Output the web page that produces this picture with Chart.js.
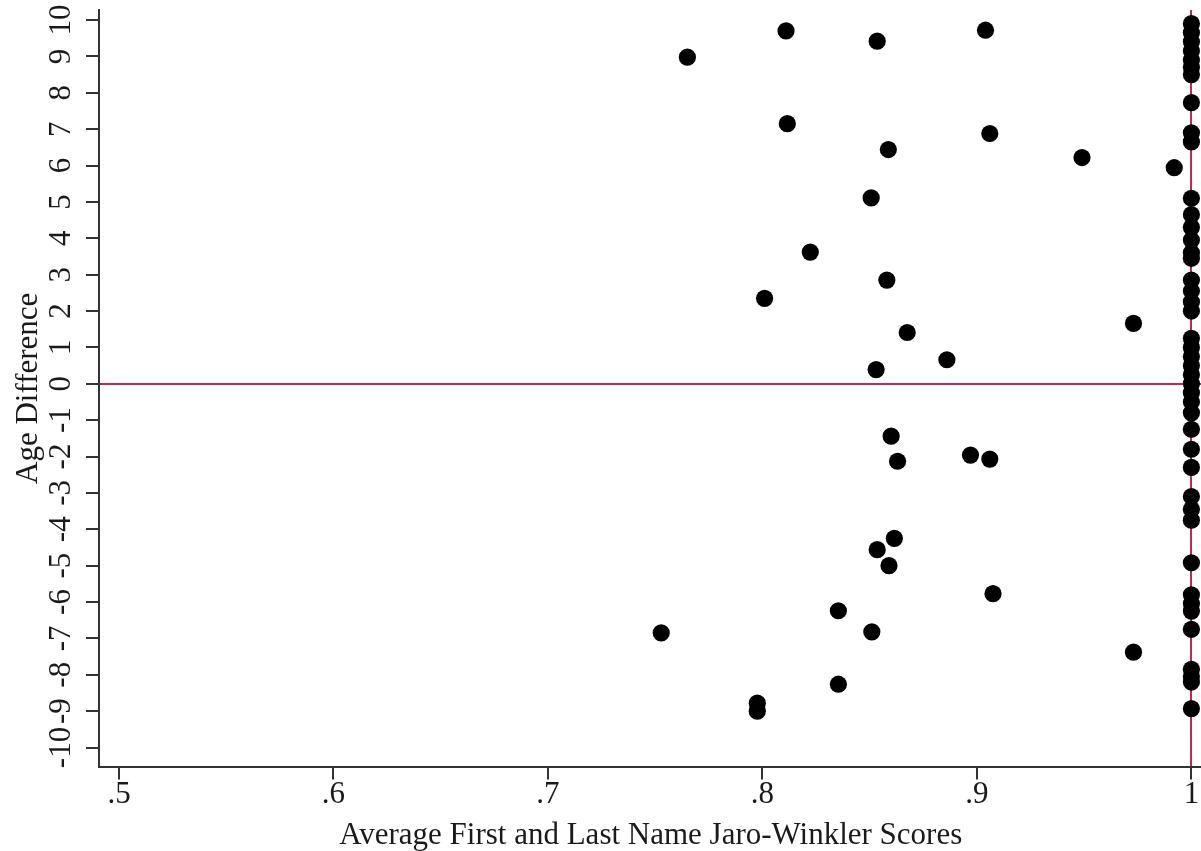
<!DOCTYPE html>
<html>
<head>
<meta charset="utf-8">
<script src="https://cdn.jsdelivr.net/npm/chart.js@4/dist/chart.umd.min.js"></script>
<style>
  html, body { margin: 0; padding: 0; background: #fff; overflow: hidden; width: 1201px; height: 851px; }
  #plot { position: absolute; left: 0; top: -12px; }
</style>
</head>
<body>
<canvas id="plot" width="1211" height="866"></canvas>
<script>
// matches that are not exact (score < 1)
var partialX = [0.765, 0.811, 0.8535, 0.904, 0.8116, 0.906, 0.8587, 0.949, 0.992, 0.8507,
                0.8223, 0.858, 0.801, 0.973, 0.8675, 0.886, 0.853,
                0.860, 0.863, 0.897, 0.906, 0.8615, 0.8535, 0.859, 0.9075, 0.8354,
                0.7528, 0.851, 0.973, 0.8354, 0.7976, 0.7976];
var partialY = [8.98, 9.70, 9.42, 9.72, 7.15, 6.88, 6.44, 6.22, 5.94, 5.11,
                3.62, 2.85, 2.35, 1.66, 1.41, 0.66, 0.39,
                -1.44, -2.13, -1.96, -2.07, -4.25, -4.56, -5.0, -5.77, -6.24,
                -6.85, -6.82, -7.38, -8.26, -8.78, -9.0];

// exact name matches (score = 1), age differences only
var exactScore = 1;
var exactY = [9.9, 9.65, 9.4, 9.15, 8.9, 8.7, 8.5, 7.73, 6.9, 6.65,
              5.1, 4.65, 4.3, 3.95, 3.6, 3.45, 2.85, 2.55, 2.25, 2.0,
              1.25, 1.0, 0.75, 0.5, 0.25, 0.0, -0.25, -0.5, -0.8, -1.25, -1.8, -2.3,
              -3.1, -3.45, -3.75, -4.92, -5.8, -6.05, -6.25, -6.75,
              -7.85, -8.05, -8.2, -8.93];

var xTickVals = [0.5, 0.6, 0.7, 0.8, 0.9, 1];
var xTickLabels = ['.5', '.6', '.7', '.8', '.9', '1'];
var yTickVals = [-10, -9, -8, -7, -6, -5, -4, -3, -2, -1, 0, 1, 2, 3, 4, 5, 6, 7, 8, 9, 10];

var refX = 1;
var refY = 0;

var points = [];
for (var i = 0; i < partialX.length; i++) {
  points.push({x: partialX[i], y: partialY[i]});
}
for (var j = 0; j < exactY.length; j++) {
  points.push({x: exactScore, y: exactY[j]});
}

var red = '#c02a52';
var ink = '#1a1a1a';
var axisCol = '#333';

var chart = new Chart(document.getElementById('plot'), {
  type: 'scatter',
  data: {
    datasets: [{
      data: points,
      backgroundColor: '#000',
      borderWidth: 0,
      pointRadius: 8.6,
      clip: false
    }]
  },
  options: {
    responsive: false,
    animation: false,
    events: [],
    layout: { padding: { top: 22, left: 10.6, right: 0, bottom: 0 } },
    plugins: { legend: { display: false }, tooltip: { enabled: false } },
    scales: {
      x: {
        type: 'linear',
        min: 0.49067,
        max: 1.00513,
        afterBuildTicks: function (s) {
          s.ticks = xTickVals.map(function (v) { return {value: v}; });
        },
        ticks: {
          autoSkip: false,
          maxRotation: 0,
          padding: -3,
          color: ink,
          font: { family: 'Liberation Serif', size: 31 },
          callback: function (v, idx) { return xTickLabels[idx]; }
        },
        grid: {
          color: function (c) { return c.tick && c.tick.value === refX ? red : 'rgba(0,0,0,0)'; },
          lineWidth: 2,
          tickColor: axisCol,
          tickWidth: 2,
          tickLength: 13,
          drawTicks: true,
          drawOnChartArea: true
        },
        border: { display: true, color: axisCol, width: 2 },
        title: {
          display: true,
          text: 'Average First and Last Name Jaro-Winkler Scores',
          color: ink,
          font: { family: 'Liberation Serif', size: 31 },
          padding: { top: 6, bottom: 0 }
        }
      },
      y: {
        type: 'linear',
        min: -10.525,
        max: 10.276,
        afterBuildTicks: function (s) {
          s.ticks = yTickVals.map(function (v) { return {value: v}; });
        },
        ticks: {
          autoSkip: false,
          minRotation: 90,
          maxRotation: 90,
          crossAlign: 'center',
          padding: 3,
          color: ink,
          font: { family: 'Liberation Serif', size: 31 }
        },
        grid: {
          color: function (c) { return c.tick && c.tick.value === refY ? red : 'rgba(0,0,0,0)'; },
          lineWidth: 2,
          tickColor: axisCol,
          tickWidth: 2,
          tickLength: 13,
          drawTicks: true,
          drawOnChartArea: true
        },
        border: { display: true, color: axisCol, width: 2 },
        title: {
          display: true,
          text: 'Age Difference',
          color: ink,
          font: { family: 'Liberation Serif', size: 31 },
          padding: { top: 0, bottom: -5 }
        }
      }
    }
  }
});
</script>
</body>
</html>
